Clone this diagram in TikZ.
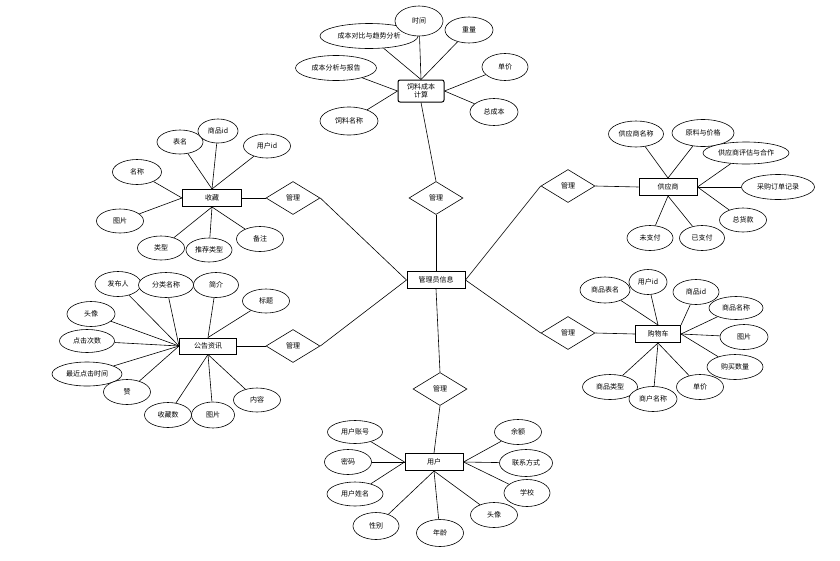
\documentclass[tikz,border=0pt]{standalone}
\usepackage{fontspec}
\setmainfont{Noto Sans CJK SC}
\usetikzlibrary{shapes.geometric,backgrounds}
\tikzset{
  every node/.style={font=\fontsize{7}{8.5}\selectfont},
  attr/.style n args={2}{ellipse,draw,fill=white,line width=0.6pt,inner sep=0pt,minimum width=#1,minimum height=#2},
  ent/.style={rectangle,draw,fill=white,line width=1pt,inner sep=0pt,minimum width=58pt,minimum height=17pt},
  rel/.style={diamond,draw,fill=white,line width=0.6pt,inner sep=0pt,minimum width=54pt,minimum height=33pt,aspect=1.6},
  link/.style={line width=0.6pt}
}
\begin{document}
\begin{tikzpicture}[x=1pt,y=-1pt]
\useasboundingbox (0,0) rectangle (840,560);
% center
\node[ent] (ctr) at (436,280) {管理员信息};
% relations
\node[rel] (d1) at (436,198) {管理};
\node[rel] (d2) at (293,198) {管理};
\node[rel] (d3) at (293,346) {管理};
\node[rel] (d4) at (568,186) {管理};
\node[rel] (d5) at (568,333) {管理};
\node[rel] (d6) at (440,389) {管理};
% feed cost
\node[ent,rounded corners=2pt,minimum width=46pt,minimum height=22pt,align=center,font=\fontsize{7}{8}\selectfont] (feed) at (421,91) {饲料成本\\计算};
\node[attr={98pt}{25pt}] (f2) at (369,36) {成本对比与趋势分析};
\node[attr={48pt}{30pt}] (f1) at (419,21) {时间};
\node[attr={48pt}{26pt}] (f3) at (469,30) {重量};
\node[attr={81pt}{25pt}] (f4) at (336,68) {成本分析与报告};
\node[attr={46pt}{27pt}] (f5) at (505,67) {单价};
\node[attr={58pt}{28pt}] (f6) at (349,121) {饲料名称};
\node[attr={48pt}{27pt}] (f7) at (494,112) {总成本};
% collect
\node[ent,minimum width=59pt] (col) at (212,198) {收藏};
\node[attr={46pt}{24pt}] (c1) at (180,142) {表名};
\node[attr={40pt}{24pt}] (c2) at (218,131) {商品id};
\node[attr={47pt}{24pt}] (c3) at (267,146) {用户id};
\node[attr={49pt}{25pt}] (c4) at (137,172) {名称};
\node[attr={47pt}{24pt}] (c5) at (120,221) {图片};
\node[attr={47pt}{24pt}] (c6) at (161,248) {类型};
\node[attr={46pt}{24pt}] (c7) at (209,250) {推荐类型};
\node[attr={47pt}{25pt}] (c8) at (260,239) {备注};
% notice
\node[ent,minimum width=57pt,minimum height=16pt] (nt) at (208,346) {公告资讯};
\node[attr={46pt}{25pt}] (n1) at (118,284) {发布人};
\node[attr={55pt}{25pt}] (n2) at (166,285) {分类名称};
\node[attr={45pt}{25pt}] (n3) at (216,285) {简介};
\node[attr={47pt}{24pt}] (n4) at (266,301) {标题};
\node[attr={48pt}{25pt}] (n5) at (91,314) {头像};
\node[attr={55pt}{23pt}] (n6) at (87,341) {点击次数};
\node[attr={70pt}{24pt}] (n7) at (87,374) {最近点击时间};
\node[attr={47pt}{25pt}] (n8) at (127,392) {赞};
\node[attr={47pt}{25pt}] (n9) at (168,415) {收藏数};
\node[attr={43pt}{26pt}] (n10) at (213,415) {图片};
\node[attr={47pt}{24pt}] (n11) at (257,400) {内容};
% supplier
\node[ent] (sup) at (668,187) {供应商};
\node[attr={55pt}{26pt}] (s1) at (636,134) {供应商名称};
\node[attr={62pt}{27pt}] (s2) at (703,133) {原料与价格};
\node[attr={86pt}{22pt}] (s3) at (746,153) {供应商评估与合作};
\node[attr={73pt}{25pt}] (s4) at (778,187) {采购订单记录};
\node[attr={47pt}{24pt}] (s5) at (743,220) {总货款};
\node[attr={45pt}{25pt}] (s6) at (702,238) {已支付};
\node[attr={46pt}{25pt}] (s7) at (650,238) {未支付};
% cart
\node[ent,minimum width=45pt] (cart) at (658,334) {购物车};
\node[attr={50pt}{26pt}] (k1) at (605,290) {商品表名};
\node[attr={38pt}{25pt}] (k2) at (648,282) {用户id};
\node[attr={46pt}{25pt}] (k3) at (696,292) {商品id};
\node[attr={54pt}{23pt}] (k4) at (736,308) {商品名称};
\node[attr={48pt}{25pt}] (k5) at (744,337) {图片};
\node[attr={56pt}{25pt}] (k6) at (735,367) {购买数量};
\node[attr={55pt}{25pt}] (k9) at (610,387) {商品类型};
\node[attr={47pt}{25pt}] (k7) at (700,387) {单价};
\node[attr={48pt}{25pt}] (k8) at (653,399) {商户名称};
% user
\node[ent] (usr) at (434,462) {用户};
\node[attr={55pt}{23pt}] (u1) at (355,432) {用户账号};
\node[attr={47pt}{25pt}] (u2) at (348,462) {密码};
\node[attr={56pt}{24pt}] (u3) at (355,494) {用户姓名};
\node[attr={46pt}{27pt}] (u4) at (376,526) {性别};
\node[attr={47pt}{27pt}] (u5) at (440,533) {年龄};
\node[attr={47pt}{25pt}] (u6) at (494,515) {头像};
\node[attr={46pt}{27pt}] (u7) at (527,493) {学校};
\node[attr={53pt}{27pt}] (u8) at (526,463) {联系方式};
\node[attr={47pt}{25pt}] (u9) at (518,432) {余额};
\begin{scope}[on background layer]
\draw[link] (ctr.north) -- (d1.south);
\draw[link] (d1.north) -- (feed.south);
\draw[link] (ctr.west) -- (d2.east);
\draw[link] (d2.west) -- (col.east);
\draw[link] (ctr.west) -- (d3.east);
\draw[link] (d3.west) -- (nt.east);
\draw[link] (ctr.east) -- (d4.west);
\draw[link] (d4.east) -- (sup.west);
\draw[link] (ctr.east) -- (d5.west);
\draw[link] (d5.east) -- (cart.west);
\draw[link] (ctr.south) -- (d6.north);
\draw[link] (d6.south) -- (usr.north);
% feed
\foreach \a in {f1,f2,f3} \draw[link] (feed.north) -- (\a);
\draw[link] (feed.west) -- (f4);
\draw[link] (feed.west) -- (f6);
\draw[link] (feed.east) -- (f5);
\draw[link] (feed.east) -- (f7);
% collect
\foreach \a in {c1,c2,c3} \draw[link] (col.north) -- (\a);
\foreach \a in {c4,c5} \draw[link] (col.west) -- (\a);
\foreach \a in {c6,c7,c8} \draw[link] (col.south) -- (\a);
% notice
\foreach \a in {n1,n2,n5,n6,n7,n8} \draw[link] (nt.west) -- (\a);
\foreach \a in {n3,n4} \draw[link] (nt.north) -- (\a);
\foreach \a in {n9,n10,n11} \draw[link] (nt.south) -- (\a);
% supplier
\foreach \a in {s1,s2} \draw[link] (sup.north) -- (\a);
\foreach \a in {s3,s4,s5} \draw[link] (sup.east) -- (\a);
\foreach \a in {s6,s7} \draw[link] (sup.south) -- (\a);
% cart
\foreach \a in {k1,k2} \draw[link] (cart.north) -- (\a);
\draw[link] (cart.north east) -- (k3);
\foreach \a in {k4,k5,k6} \draw[link] (cart.east) -- (\a);
\foreach \a in {k7,k8,k9} \draw[link] (cart.south) -- (\a);
% user
\foreach \a in {u1,u2,u3} \draw[link] (usr.west) -- (\a);
\foreach \a in {u4,u5,u6} \draw[link] (usr.south) -- (\a);
\foreach \a in {u7,u8,u9} \draw[link] (usr.east) -- (\a);
\end{scope}
\end{tikzpicture}
\end{document}
